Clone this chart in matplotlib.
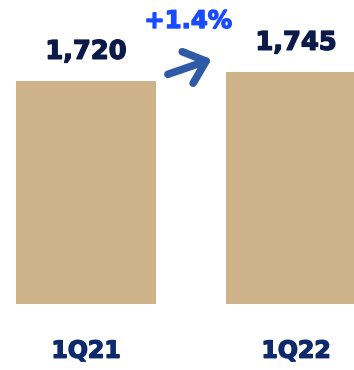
import matplotlib
matplotlib.use("Agg")
import matplotlib.pyplot as plt
import matplotlib.patheffects as pe

# Werte aus dem Bild
quartale = ["1Q21", "1Q22"]
werte = [1720, 1745]
wert_labels = ["1,720", "1,745"]
veraenderung = "+1.4%"

bar_farbe = "#CDB28A"
navy = "#0B1A48"
navy_label = "#0D2A6B"
blau_text = "#1A4CFF"
blau_pfeil = "#2F5BA6"

def dick(farbe):
    # Schrift etwas fetter machen
    return [pe.Stroke(linewidth=1.0, foreground=farbe), pe.Normal()]

fig = plt.figure(figsize=(3.54, 3.70), dpi=100)
ax = fig.add_axes([0, 66 / 370, 1, 304 / 370])

basis = 1100
x = list(range(len(werte)))
ax.bar(x, [w - basis for w in werte], bottom=basis, width=0.667,
       color=bar_farbe, edgecolor="none")

ax.set_xlim(-0.4095, 1.276)
ax.set_ylim(basis, basis + 304 * 25 / 9)

# Werte ueber den Balken
for xi, w, lab in zip(x, werte, wert_labels):
    ax.annotate(lab, (xi, w), xytext=(0, 22), textcoords="offset pixels",
                ha="center", va="baseline", fontsize=18.5,
                fontweight="bold", color=navy, path_effects=dick(navy))

# Quartale unter den Balken
ax.set_xticks(x)
ax.set_xticklabels(quartale, fontsize=17, fontweight="bold", color=navy_label,
                   path_effects=dick(navy_label))
ax.tick_params(axis="x", length=0, pad=25)
ax.set_yticks([])
for s in ax.spines.values():
    s.set_visible(False)

# Veraenderung mit Pfeil
ax.text(0.486, 1 - 28 / 304, veraenderung, transform=ax.get_xaxis_transform(),
        ha="center", va="baseline", fontsize=17.5, fontweight="bold",
        color=blau_text, path_effects=dick(blau_text))
ax.annotate("", xy=(0.598, 1780), xytext=(0.390, 1738),
            arrowprops=dict(arrowstyle="->,head_length=1.4,head_width=1.2",
                            lw=5.5, color=blau_pfeil,
                            shrinkA=0, shrinkB=0))

fig.savefig("out.png", dpi=100)
